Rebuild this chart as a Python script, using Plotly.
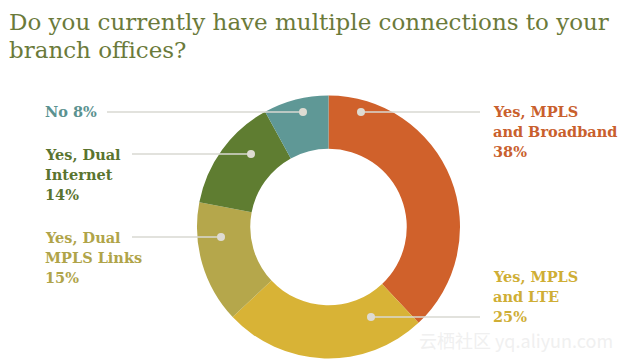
import plotly.graph_objects as go

# ---- data ----
categories = ["Yes, MPLS and Broadband", "Yes, MPLS and LTE", "Yes, Dual MPLS Links",
              "Yes, Dual Internet", "No"]
values = [38, 25, 15, 14, 8]
colors = ["#D0612B", "#D8B336", "#B5A74B", "#5F7D31", "#5F9896"]
label_lines = [
    ["Yes, MPLS", "and Broadband", "38%"],
    ["Yes, MPLS", "and LTE", "25%"],
    ["Yes, Dual", "MPLS Links", "15%"],
    ["Yes, Dual", "Internet", "14%"],
    ["No 8%"],
]
label_colors = ["#C9602D", "#CFAE35", "#B0A449", "#5A742F", "#5B9290"]
title_lines = ["Do you currently have multiple connections to your", "branch offices?"]

W, H = 630, 359
cx, cy, R = 328.5, 227, 131.5

# layout of callouts (pixel positions): text x, first-line y, leader line x0/x1/y, dot
callouts = [
    dict(tx=491, ty=111, lx0=361, lx1=480, ly=112, side="right"),
    dict(tx=491, ty=276, lx0=371, lx1=480, ly=317, side="right"),
    dict(tx=43, ty=237, lx0=132, lx1=221, ly=237, side="left"),
    dict(tx=43, ty=154, lx0=132, lx1=251, ly=154, side="left"),
    dict(tx=43, ty=112, lx0=107, lx1=303, ly=112, side="left"),
]

def px(x):
    return x / W

def py(y):
    return 1 - y / H

fig = go.Figure(go.Pie(
    labels=categories, values=values, sort=False, direction="clockwise", rotation=0,
    hole=0.595, marker=dict(colors=colors, line=dict(width=0)),
    textinfo="none", hoverinfo="label+percent", showlegend=False,
    domain=dict(x=[px(cx - R), px(cx + R)], y=[py(cy + R), py(cy - R)]),
))

annotations = []
shapes = []
for i, t in enumerate(title_lines):
    annotations.append(dict(
        x=px(7), y=py(22 + i * 28), xref="paper", yref="paper", xanchor="left", yanchor="middle",
        text=t, showarrow=False,
        font=dict(family="DejaVu Serif", size=23, color="#6B7A3A")))

for c, lines, col in zip(callouts, label_lines, label_colors):
    for j, ln in enumerate(lines):
        annotations.append(dict(
            x=px(c["tx"]), y=py(c["ty"] + j * 20.3), xref="paper", yref="paper",
            xanchor="left", yanchor="middle", text="<b>" + ln + "</b>", showarrow=False,
            font=dict(family="DejaVu Serif", size=14.5, color=col)))
    shapes.append(dict(type="line", xref="paper", yref="paper",
                       x0=px(c["lx0"]), x1=px(c["lx1"]), y0=py(c["ly"]), y1=py(c["ly"]),
                       line=dict(color="#D9D9D2", width=1.5)))
    dx = c["lx0"] if c["side"] == "right" else c["lx1"]
    r = 4
    shapes.append(dict(type="circle", xref="paper", yref="paper",
                       x0=px(dx - r), x1=px(dx + r), y0=py(c["ly"] + r), y1=py(c["ly"] - r),
                       fillcolor="#DEDBD2", line=dict(width=0)))

annotations.append(dict(
    x=px(516), y=py(340), xref="paper", yref="paper", xanchor="center", yanchor="middle",
    text="云栖社区 yq.aliyun.com", showarrow=False,
    font=dict(family="Noto Sans CJK SC", size=18, color="rgba(238,238,238,0.9)")))

fig.update_layout(
    width=W, height=H, margin=dict(l=0, r=0, t=0, b=0),
    paper_bgcolor="white", plot_bgcolor="white",
    annotations=annotations, shapes=shapes,
)

fig.write_html("out.html")
